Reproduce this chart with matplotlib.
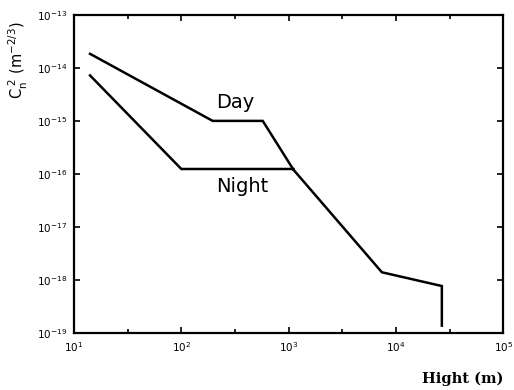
import matplotlib.pyplot as plt
from matplotlib.ticker import LogLocator, NullFormatter

# ========= Data =========
day_x = [14.1, 196, 574, 1110]
day_y = [1.84e-14, 1.0e-15, 1.0e-15, 1.2e-16]

night_x = [14.1, 100, 1110]
night_y = [7.2e-15, 1.24e-16, 1.24e-16]

tail_x = [1110, 7400, 26800, 26800]
tail_y = [1.2e-16, 1.4e-18, 7.7e-19, 1.38e-19]

x_ticks = [1e1, 1e2, 1e3, 1e4, 1e5]
x_tick_labels = ["$10^1$", "$10^2$", "$10^3$", "$10^4$", "$10^5$"]
y_ticks = [1e-19, 1e-18, 1e-17, 1e-16, 1e-15, 1e-14, 1e-13]
y_tick_labels = ["$10^{-19}$", "$10^{-18}$", "$10^{-17}$", "$10^{-16}$",
                 "$10^{-15}$", "$10^{-14}$", "$10^{-13}$"]

# ========= Plot =========
fig = plt.figure(figsize=(5.14, 3.90), dpi=100)
ax = fig.add_axes([0.144, 0.146, 0.835, 0.816])

ax.plot(day_x, day_y, color="black", lw=1.8, solid_joinstyle="miter")
ax.plot(night_x, night_y, color="black", lw=1.8, solid_joinstyle="miter")
ax.plot(tail_x, tail_y, color="black", lw=1.8, solid_joinstyle="miter")

ax.set_xscale("log")
ax.set_yscale("log")
ax.set_xlim(1e1, 1e5)
ax.set_ylim(1e-19, 1e-13)

ax.set_xticks(x_ticks)
ax.set_xticklabels(x_tick_labels)
ax.set_yticks(y_ticks)
ax.set_yticklabels(y_tick_labels)
ax.xaxis.set_minor_locator(LogLocator(base=10, subs=[3.162]))
ax.xaxis.set_minor_formatter(NullFormatter())
ax.yaxis.set_minor_locator(plt.NullLocator())

ax.tick_params(which="both", direction="in", top=True, right=True,
               labelsize=7.5, width=1.2, pad=5)
ax.tick_params(which="major", length=4)
ax.tick_params(which="minor", length=3)
for s in ax.spines.values():
    s.set_linewidth(1.6)

ax.text(317, 2.2e-15, "Day", fontsize=14, ha="center", va="center")
ax.text(368, 5.9e-17, "Night", fontsize=14, ha="center", va="center")

fig.text(0.035, 0.845, r"$\mathrm{C_n^{\ 2}\ (m^{-2/3})}$", rotation=90,
         fontsize=10.5, ha="center", va="center")
fig.text(0.9, 0.028, "Hight (m)", fontsize=10.5, fontfamily="DejaVu Serif",
         fontweight="bold", ha="center", va="center")

fig.savefig("out.png", dpi=100)
